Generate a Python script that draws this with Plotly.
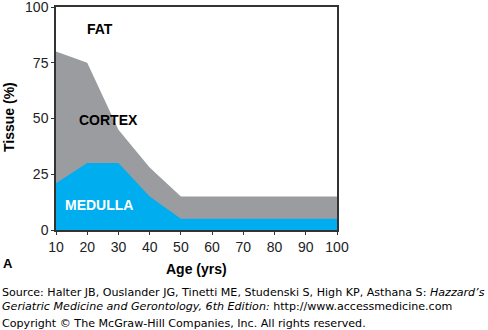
import plotly.graph_objects as go

ages = [10, 20, 30, 40, 50, 60, 70, 80, 90, 100]
medulla = [21, 30, 30, 15, 5, 5, 5, 5, 5, 5]
cortex_top = [80, 75, 45, 28, 15, 15, 15, 15, 15, 15]
x_ticks = [10, 20, 30, 40, 50, 60, 70, 80, 90, 100]
y_ticks = [0, 25, 50, 75, 100]

fig = go.Figure()
fig.add_trace(go.Scatter(x=ages, y=cortex_top, fill="tozeroy", mode="none",
                         fillcolor="#9b9c9f", hoverinfo="skip"))
fig.add_trace(go.Scatter(x=ages, y=medulla, fill="tozeroy", mode="none",
                         fillcolor="#00aeef", hoverinfo="skip"))

font = "Arial, Liberation Sans, sans-serif"
TOP, BOTTOM = 7, 100
PH = 330 - TOP - BOTTOM
fig.update_layout(
    width=488, height=330,
    margin=dict(l=56, r=151, t=TOP, b=BOTTOM, autoexpand=False),
    plot_bgcolor="white", paper_bgcolor="white",
    showlegend=False,
    font=dict(family=font, size=13, color="black"),
    xaxis=dict(range=[10, 100], tickvals=x_ticks, showgrid=False, zeroline=False,
               showline=True, linecolor="#333", linewidth=1.5, mirror=True,
               ticks="outside", ticklen=3, tickcolor="#333", automargin=False,
               ticklabeloverflow="allow",
               tickfont=dict(size=14, color="#222", family=font)),
    yaxis=dict(range=[0, 100], tickvals=y_ticks, showgrid=False, zeroline=False,
               showline=True, linecolor="#333", linewidth=1.5, mirror=True,
               ticks="outside", ticklen=3, tickcolor="#333", automargin=False,
               ticklabeloverflow="allow",
               tickfont=dict(size=14, color="#222", family=font)),
)


def px(xp, yp):
    return (xp - 56) / 281.0, (330 - BOTTOM - yp) / PH


tx, ty = px(9, 117)
fig.add_annotation(x=tx, y=ty, xref="paper", yref="paper", text="<b>Tissue (%)</b>",
                   textangle=-90, showarrow=False, xanchor="center", yanchor="middle",
                   font=dict(size=14, family=font))
ax, ay = px(196, 269)
fig.add_annotation(x=ax, y=ay, xref="paper", yref="paper", text="<b>Age (yrs)</b>",
                   showarrow=False, xanchor="center", yanchor="middle",
                   font=dict(size=14, family=font))
a_x, a_y = px(8, 263)
fig.add_annotation(x=a_x, y=a_y, xref="paper", yref="paper", text="<b>A</b>",
                   showarrow=False, xanchor="center", yanchor="middle",
                   font=dict(size=13, family=font))

fig.add_annotation(x=24.1, y=90, xref="x", yref="y", text="<b>FAT</b>", showarrow=False,
                   xanchor="center", yanchor="middle", font=dict(size=14, family=font))
fig.add_annotation(x=26.7, y=49.5, xref="x", yref="y", text="<b>CORTEX</b>", showarrow=False,
                   xanchor="center", yanchor="middle", font=dict(size=14, family=font))
fig.add_annotation(x=23.8, y=11.3, xref="x", yref="y", text="<b>MEDULLA</b>", showarrow=False,
                   xanchor="center", yanchor="middle",
                   font=dict(size=14, family=font, color="white"))

src_font = dict(size=11.1, family="DejaVu Sans, Verdana, sans-serif", color="black")
for txt, ypix in [
    ("Source: Halter JB, Ouslander JG, Tinetti ME, Studenski S, High KP, Asthana S: <i>Hazzard’s</i>", 292),
    ("<i>Geriatric Medicine and Gerontology, 6th Edition:</i> http://www.accessmedicine.com", 306),
    ("Copyright © The McGraw-Hill Companies, Inc. All rights reserved.", 323),
]:
    sx, sy = px(0, ypix)
    fig.add_annotation(x=sx, y=sy, xref="paper", yref="paper", text=txt, showarrow=False,
                       xanchor="left", yanchor="middle", font=src_font)

fig.write_html("out.html")
